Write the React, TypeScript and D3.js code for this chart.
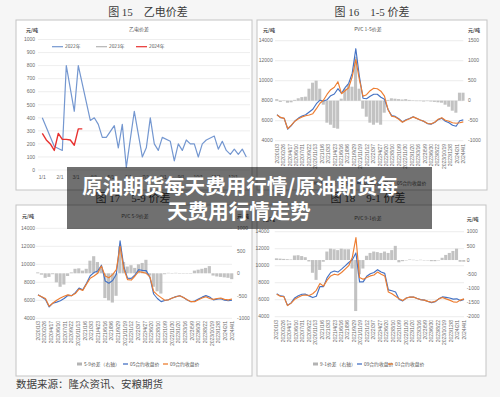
import React from 'react';
import * as d3 from 'd3';

const SANS = '"Noto Sans CJK SC", "Noto Sans", sans-serif';
const NARROW = '"Liberation Sans Narrow", "Liberation Sans", "Noto Sans CJK SC", sans-serif';
const SERIF = '"Liberation Serif", "Noto Sans CJK SC", serif';

// ---------- Panel 1: 乙电价差 ----------
const p1YTicks = [0, 100, 200, 300, 400, 500, 600, 700, 800, 900, 1000];
const p1MonthLabels = ['1/1', '2/1', '3/1', '4/1', '5/1', '6/1', '7/1', '8/1', '9/1', '10/1', '11/1', '12/1'];
const p1MonthDays = [0, 31, 59, 90, 120, 151, 181, 212, 243, 273, 304, 334];
const p1Weeks2022 = [0, 3, 5, 6, 8, 9, 12, 13, 14, 15, 16, 18, 19, 20, 21, 23, 25, 26, 27, 28, 29, 30, 32, 33, 34, 35, 36, 37, 38, 39, 40, 41, 43, 44, 45, 46, 47, 48, 49, 50, 51];
const p1Vals2022 = [400, 180, 150, 800, 450, 800, 380, 400, 350, 250, 250, 340, 170, 350, 20, 450, 100, 170, 400, 200, 150, 250, 220, 70, 200, 150, 230, 200, 200, 100, 200, 230, 260, 160, 220, 150, 120, 160, 120, 160, 100];
const p1Weeks2024 = [0, 1, 2, 3, 4, 5, 6, 7, 8, 9, 10];
const p1Vals2024 = [280, 230, 200, 150, 280, 235, 235, 230, 190, 315, 315];
const p1Legend = ['2022年', '2023年', '2024年'];

// ---------- shared PVC axis ----------
const pvcLeftTicks = [4000, 6000, 8000, 10000, 12000, 14000];
const pvcDateLabels = ['2020/1/3', '2020/2/26', '2020/4/17', '2020/6/10', '2020/7/31', '2020/9/22', '2020/11/13', '2021/1/6', '2021/3/3', '2021/4/23', '2021/6/16', '2021/8/6', '2021/9/29', '2021/11/19', '2022/1/12', '2022/3/7', '2022/4/27', '2022/6/20', '2022/8/10', '2022/10/9', '2022/11/30', '2023/1/20', '2023/3/16', '2023/5/9', '2023/6/30', '2023/8/22', '2023/10/19', '2023/12/8', '2024/2/1', '2024/4/1'];

// ---------- Panel 2: PVC 1-5 ----------
const p2RightTicks = [-1000, -500, 0, 500, 1000, 1500];
const p2Spread = [40, -30, 10, -50, -40, 20, 60, 90, 100, 300, 450, 500, 300, -100, -550, -600, -680, -700, 50, 300, 420, 350, 1100, 300, -200, -400, -550, -600, -550, -600, -300, 20, 60, 50, 40, 30, 40, 20, 10, -10, 0, -20, -10, -20, -30, -40, -50, -100, -150, -250, -300, 200, 200];
const p2Blue = [6610, 6300, 6240, 5150, 5510, 5970, 6260, 6470, 6600, 6870, 7150, 7700, 8050, 7970, 8100, 8500, 8670, 9200, 8750, 9300, 9720, 10750, 13200, 10400, 8250, 8200, 8450, 8650, 8650, 8350, 8150, 7120, 6510, 6430, 6190, 5880, 6090, 6220, 6390, 6220, 6070, 5930, 5710, 5660, 5820, 6110, 6250, 5950, 5800, 5550, 5450, 6000, 6080];
const p2Orange = [6570, 6330, 6230, 5200, 5550, 5950, 6200, 6380, 6500, 6570, 6700, 7200, 7750, 8070, 8650, 9100, 9350, 9900, 8700, 9000, 9300, 10400, 12100, 10100, 8450, 8600, 9000, 9250, 9200, 8950, 8450, 7100, 6450, 6380, 6150, 5850, 6050, 6200, 6380, 6230, 6070, 5950, 5720, 5680, 5850, 6150, 6300, 6050, 5950, 5800, 5750, 5800, 5880];
const p2Legend = ['1-5价差（右轴）', '01合约收盘价', '05合约收盘价'];

// ---------- Panel 3: PVC 5-9 ----------
const p3RightTicks = [-1000, -500, 0, 500, 1000];
const p3Spread = [20, -30, -100, -80, -20, -200, -300, -250, -60, 20, 100, 110, 60, 100, 280, 380, 250, 100, -550, -600, -650, -500, 600, 250, 150, 180, 120, 200, 230, 300, -50, -300, -400, -450, -20, 10, 0, 10, 5, 0, -5, -10, 60, 80, 100, 120, 160, -50, -70, -80, -90, -100, -130];
const p3Blue = [6620, 6370, 6100, 5270, 5680, 5800, 5950, 6200, 6540, 6520, 6850, 7360, 7160, 7900, 8730, 9080, 9250, 9900, 8150, 7900, 8200, 8900, 12600, 9750, 8450, 8430, 8820, 9400, 9330, 9300, 8550, 6700, 6200, 5850, 5980, 6060, 6250, 6410, 6505, 6300, 6045, 5840, 5910, 6130, 6350, 6520, 6360, 6050, 6130, 6170, 6010, 5950, 6020];
const p3Orange = [6600, 6400, 6200, 5350, 5700, 6000, 6250, 6450, 6600, 6500, 6750, 7250, 7100, 7800, 8450, 8700, 9000, 9800, 8700, 8500, 8850, 9400, 12000, 9500, 8300, 8250, 8700, 9200, 9100, 9000, 8600, 7000, 6600, 6300, 6000, 6050, 6250, 6400, 6500, 6300, 6050, 5850, 5850, 6050, 6250, 6400, 6200, 6100, 6200, 6250, 6100, 6050, 6150];
const p3Legend = ['5-9价差（右轴）', '05合约收盘价', '09合约收盘价'];

// ---------- Panel 4: PVC 9-1 ----------
const p4RightTicks = [-2000, -1500, -1000, -500, 0, 500, 1000];
const p4Spread = [60, 50, 40, 30, 20, 160, 170, 140, 100, -50, -450, -700, -350, -60, 300, 400, 380, 350, 400, 380, 380, -300, -1800, -500, -300, 150, 250, 300, 280, 250, 300, 250, 350, 500, -80, -40, 0, 20, 10, 0, 10, 0, -10, -40, -40, 0, 80, 180, 250, 320, 400, -60, -60];
const p4Blue = [6710, 6450, 6390, 5330, 5620, 6210, 6470, 6640, 6650, 6450, 6250, 6400, 7550, 7540, 8600, 9200, 9380, 9250, 9600, 9980, 10380, 10700, 11500, 8100, 8100, 8750, 9050, 9200, 9530, 9250, 9100, 7150, 7050, 6900, 6020, 5860, 6200, 6320, 6310, 6150, 6010, 5950, 5790, 5660, 5760, 6100, 6330, 6280, 6200, 6070, 6100, 5890, 6040];
const p4Orange = [6650, 6400, 6350, 5300, 5600, 6050, 6300, 6500, 6550, 6500, 6700, 7100, 7900, 7600, 8300, 8800, 9000, 8900, 9200, 9600, 10000, 11000, 13300, 8600, 8400, 8600, 8800, 8900, 9250, 9000, 8800, 6900, 6700, 6400, 6100, 5900, 6200, 6300, 6300, 6150, 6000, 5950, 5800, 5700, 5800, 6100, 6250, 6100, 5950, 5750, 5700, 5950, 6100];
const p4Legend = ['9-1价差（右轴）', '09合约收盘价', '01合约收盘价'];

const BLUE = '#4472c4';
const ORANGE = '#ed7d31';
const BAR = '#b3b3b3';
const TICK = '#6b6b6b';

function Panel1() {
  const x = d3.scaleLinear().domain([0, 52]).range([42.3, 250.3]);
  const y = d3.scaleLinear().domain([0, 1000]).range([170, 39.5]);
  const line = d3.line<[number, number]>().x(d => x(d[0])).y(d => y(d[1]));
  const d2022 = line(p1Weeks2022.map((w, i) => [w, p1Vals2022[i]] as [number, number])) || '';
  const d2024 = line(p1Weeks2024.map((w, i) => [w, p1Vals2024[i]] as [number, number])) || '';
  const legendX = [52, 96, 136];
  const legendC = ['#7497d0', '#b4b4b4', '#e8312f'];
  return (
    <g>
      <rect x={16} y={20} width={236} height={170} fill="#fff" stroke="#c4c4c4" />
      <text x={148} y={16} textAnchor="middle" fontFamily={SERIF} fontSize={11} fill="#3a3a3a">图 15　乙电价差</text>
      <text x={139} y={30.5} textAnchor="middle" fontFamily={SANS} fontSize={5} fill="#555">乙电价差</text>
      <text x={26} y={32} fontFamily={SANS} fontSize={5} fill="#444" fontWeight={700}>元/吨</text>
      {p1YTicks.map(t => (
        <g key={t}>
          <line x1={38} x2={250} y1={y(t)} y2={y(t)} stroke="#e3e3e3" strokeWidth={0.6} />
          <text x={35} y={y(t)} dy="0.35em" textAnchor="end" fontFamily={NARROW} fontSize={5} fill={TICK}>{t}</text>
        </g>
      ))}
      {p1MonthLabels.map((m, i) => (
        <text key={m} x={x(p1MonthDays[i] / 7)} y={179} textAnchor="middle" fontFamily={NARROW} fontSize={5} fill={TICK}>{m}</text>
      ))}
      {p1Legend.map((l, i) => (
        <g key={l}>
          <line x1={legendX[i]} x2={legendX[i] + 11} y1={46.7} y2={46.7} stroke={legendC[i]} strokeWidth={1.2} />
          <text x={legendX[i] + 13} y={46.7} dy="0.35em" fontFamily={SANS} fontSize={4.8} fill="#555">{l}</text>
        </g>
      ))}
      <path d={d2022} fill="none" stroke="#7497d0" strokeWidth={1.2} strokeLinejoin="round" />
      <path d={d2024} fill="none" stroke="#e8312f" strokeWidth={1.4} strokeLinejoin="round" />
    </g>
  );
}

type PVCProps = {
  frame: [number, number, number, number];
  figTitle: string; figX: number; figY: number;
  chartTitle: string; chartTitleX: number; chartTitleY: number;
  x0: number; x1: number; yT: number; yB: number;
  rDomain: [number, number]; rTicks: number[];
  spread: number[]; blue: number[]; orange: number[];
  unitY: number; leftLabelX: number; rightLabelX: number;
  dateTop: number; legend: string[]; legendX: number[]; legendY: number;
};

function PVCPanel(p: PVCProps) {
  const n = p.orange.length;
  const x = d3.scaleLinear().domain([0, n - 1]).range([p.x0, p.x1]);
  const yL = d3.scaleLinear().domain([4000, 14000]).range([p.yB, p.yT]);
  const yR = d3.scaleLinear().domain(p.rDomain).range([p.yB, p.yT]);
  const step = x(1) - x(0);
  const line = d3.line<number>().x((_, i) => x(i)).y(v => yL(v)).curve(d3.curveLinear);
  const dx = d3.scaleLinear().domain([0, pvcDateLabels.length - 1]).range([p.x0, p.x1]);
  const [fx, fy, fw, fh] = p.frame;
  return (
    <g>
      <rect x={fx} y={fy} width={fw} height={fh} fill="#fff" stroke="#c4c4c4" />
      <text x={p.figX} y={p.figY} textAnchor="middle" fontFamily={SERIF} fontSize={11} fill="#3a3a3a">{p.figTitle}</text>
      <text x={p.chartTitleX} y={p.chartTitleY} textAnchor="middle" fontFamily={SANS} fontSize={5} fill="#555">{p.chartTitle}</text>
      <text x={fx + 6} y={p.unitY} fontFamily={SANS} fontSize={5} fill="#444" fontWeight={700}>元/吨</text>
      <text x={p.rightLabelX} y={p.unitY} fontFamily={SANS} fontSize={5} fill="#444" fontWeight={700}>元/吨</text>
      {pvcLeftTicks.map(t => (
        <g key={t}>
          <line x1={p.x0 - 2} x2={p.x1} y1={yL(t)} y2={yL(t)} stroke="#e0e0e0" strokeWidth={0.6} />
          <text x={p.leftLabelX} y={yL(t)} dy="0.35em" textAnchor="end" fontFamily={NARROW} fontSize={5} fill={TICK}>{t}</text>
        </g>
      ))}
      {p.rTicks.map(t => (
        <text key={t} x={p.rightLabelX} y={yR(t)} dy="0.35em" fontFamily={NARROW} fontSize={5} fill={TICK}>{t}</text>
      ))}
      {p.spread.map((v, i) => (
        <rect key={i} x={x(i) - step / 2} width={step * 0.85} y={Math.min(yR(0), yR(v))} height={Math.max(0.4, Math.abs(yR(v) - yR(0)))} fill={BAR} opacity={0.8} />
      ))}
      <path d={line(p.blue) || ''} fill="none" stroke={BLUE} strokeWidth={1.15} strokeLinejoin="round" />
      <path d={line(p.orange) || ''} fill="none" stroke={ORANGE} strokeWidth={1.15} strokeLinejoin="round" />
      {pvcDateLabels.map((d, i) => (
        <text key={d} transform={`translate(${dx(i)},${p.dateTop}) rotate(-90)`} dy="0.35em" textAnchor="end" fontFamily={NARROW} fontSize={5} fill={TICK}>{d}</text>
      ))}
      {p.legend.map((l, i) => (
        <g key={l}>
          {i === 0
            ? <rect x={p.legendX[i]} y={p.legendY - 1.5} width={5} height={3} fill={BAR} />
            : <line x1={p.legendX[i]} x2={p.legendX[i] + 5} y1={p.legendY} y2={p.legendY} stroke={i === 1 ? BLUE : ORANGE} strokeWidth={1.3} />}
          <text x={p.legendX[i] + 7} y={p.legendY} dy="0.35em" fontFamily={SANS} fontSize={4.8} fill="#555">{l}</text>
        </g>
      ))}
    </g>
  );
}

export default function App() {
  return (
    <svg width={500} height={397} style={{ position: 'absolute', left: 0, top: 0 }}>
      <rect x={0} y={0} width={500} height={397} fill="#f6f6f6" />
      <Panel1 />
      <PVCPanel frame={[257, 20, 230, 170]} figTitle="图 16　1-5 价差" figX={372} figY={16}
        chartTitle="PVC 1-5价差" chartTitleX={368} chartTitleY={31.3}
        x0={277} x1={463.3} yT={40.7} yB={140.7} rDomain={[-1000, 1500]} rTicks={p2RightTicks}
        spread={p2Spread} blue={p2Blue} orange={p2Orange} unitY={32} leftLabelX={272.7} rightLabelX={468}
        dateTop={144} legend={p2Legend} legendX={[313, 357, 390]} legendY={183} />
      <PVCPanel frame={[16, 205, 236, 171]} figTitle="图 17　5-9 价差" figX={133} figY={202}
        chartTitle="PVC 5-9价差" chartTitleX={135} chartTitleY={217.5}
        x0={38} x1={232} yT={228.3} yB={318.3} rDomain={[-1000, 1000]} rTicks={p3RightTicks}
        spread={p3Spread} blue={p3Blue} orange={p3Orange} unitY={218} leftLabelX={35} rightLabelX={237}
        dateTop={321} legend={p3Legend} legendX={[77, 123, 163]} legendY={364} />
      <PVCPanel frame={[257, 205, 229, 171]} figTitle="图 18　9-1 价差" figX={368} figY={202}
        chartTitle="PVC 9-1价差" chartTitleX={368} chartTitleY={219.8}
        x0={276.7} x1={464} yT={231.7} yB={316.7} rDomain={[-2000, 1000]} rTicks={p4RightTicks}
        spread={p4Spread} blue={p4Blue} orange={p4Orange} unitY={221} leftLabelX={269.3} rightLabelX={466.7}
        dateTop={320} legend={p4Legend} legendX={[313, 357, 388]} legendY={364} />
      <text x={16} y={388} fontFamily={SANS} fontSize={10.5} fill="#404040">数据来源：隆众资讯、安粮期货</text>
      <rect x={67} y={167} width={365} height={62} fill="rgba(0,0,0,0.56)" />
      <text x={240} y={193.5} textAnchor="middle" fontFamily={SANS} fontWeight={700} fontSize={20.5} fill="#fff">原油期货每天费用行情/原油期货每</text>
      <text x={239} y={219} textAnchor="middle" fontFamily={SANS} fontWeight={700} fontSize={20.5} fill="#fff">天费用行情走势</text>
    </svg>
  );
}
